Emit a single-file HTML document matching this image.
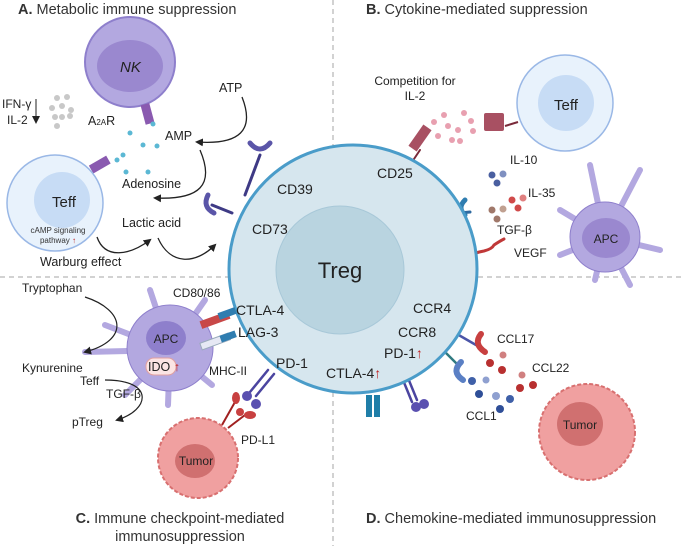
<!DOCTYPE html>
<html><head><meta charset="utf-8"><style>
body{margin:0;background:#fff}
svg{display:block;font-family:"Liberation Sans",sans-serif}
</style></head><body>
<svg width="685" height="546" viewBox="0 0 685 546" xmlns="http://www.w3.org/2000/svg">
<defs>
<marker id="ah" markerWidth="8" markerHeight="8" refX="6" refY="4" orient="auto" markerUnits="userSpaceOnUse"><path d="M0,0 L8,4 L0,8 Z" fill="#222"/></marker>
</defs>
<g stroke="#c4c4c4" stroke-width="1.5" stroke-dasharray="5,4" fill="none">
<line x1="333" y1="0" x2="333" y2="150"/><line x1="333" y1="392" x2="333" y2="546"/>
<line x1="0" y1="277" x2="230" y2="277"/><line x1="478" y1="277" x2="685" y2="277"/>
</g>
<g font-size="14.5" fill="#333">
<text x="18" y="14"><tspan font-weight="bold">A.</tspan> Metabolic immune suppression</text>
<text x="366" y="14"><tspan font-weight="bold">B.</tspan> Cytokine-mediated suppression</text>
<text x="180" y="523" text-anchor="middle"><tspan font-weight="bold">C.</tspan> Immune checkpoint-mediated</text>
<text x="180" y="541" text-anchor="middle">immunosuppression</text>
<text x="366" y="523"><tspan font-weight="bold">D.</tspan> Chemokine-mediated immunosuppression</text>
</g>
<g stroke-linecap="round">
<line x1="245" y1="195" x2="260" y2="155" stroke="#3e3a85" stroke-width="3"/>
<path d="M250,143 q10,12 20,0" stroke="#5a55a8" stroke-width="5" fill="none"/>
<line x1="232" y1="213" x2="212" y2="205" stroke="#3e3a85" stroke-width="3"/>
<path d="M208,195 q-6,12 6,18" stroke="#5a55a8" stroke-width="5" fill="none"/>
<line x1="410" y1="165" x2="420" y2="150" stroke="#7a2a3a" stroke-width="2"/>
<rect x="415" y="125" width="10" height="26" fill="#a85062" transform="rotate(35 420 138)"/>
<line x1="460" y1="213" x2="470" y2="212" stroke="#2f6aa0" stroke-width="3"/>
<path d="M465,200 q-8,8 0,15" stroke="#2f7db0" stroke-width="5" fill="none"/>
<path d="M470,255 q8,-3 14,-4 q8,-2 10,-6 q6,-4 10,-6" stroke="#c03838" stroke-width="3" fill="none"/>
<line x1="450" y1="330" x2="476" y2="345" stroke="#4b55a8" stroke-width="2.5"/>
<path d="M485,352 q-12,-8 -4,-18" stroke="#c84040" stroke-width="6" fill="none"/>
<line x1="438" y1="345" x2="458" y2="365" stroke="#2f7a80" stroke-width="2.5"/>
<path d="M463,380 q-12,-8 -2,-18" stroke="#5a7fc4" stroke-width="6" fill="none"/>
<rect x="366" y="395" width="6" height="22" fill="#1f7ea8"/><rect x="374" y="395" width="6" height="22" fill="#1f7ea8"/>
<line x1="403" y1="380" x2="412" y2="402" stroke="#4b45a0" stroke-width="2.5"/>
<line x1="408" y1="378" x2="417" y2="400" stroke="#4b45a0" stroke-width="2.5"/>
<circle cx="416" cy="407" r="5" fill="#5a50b0"/><circle cx="424" cy="404" r="5" fill="#5a50b0"/>
<line x1="268" y1="370" x2="250" y2="392" stroke="#4b45a0" stroke-width="2.5"/>
<line x1="274" y1="374" x2="256" y2="396" stroke="#4b45a0" stroke-width="2.5"/>
<circle cx="247" cy="396" r="5" fill="#5a50b0"/><circle cx="256" cy="404" r="5" fill="#5a50b0"/>
</g>
<circle cx="353" cy="269" r="124" fill="#d6e6ee" stroke="#4a9cc9" stroke-width="3"/>
<circle cx="340" cy="270" r="64" fill="#b9d4e0" stroke="#a8c8d8" stroke-width="1"/>
<text x="340" y="278" font-size="22" text-anchor="middle" fill="#222">Treg</text>
<g font-size="14" fill="#222">
<text x="277" y="194">CD39</text><text x="252" y="234">CD73</text><text x="377" y="178">CD25</text>
<text x="236" y="315">CTLA-4</text><text x="238" y="337">LAG-3</text><text x="276" y="368">PD-1</text>
<text x="413" y="313">CCR4</text><text x="398" y="337">CCR8</text><text x="384" y="358">PD-1<tspan fill="#c02020">↑</tspan></text>
<text x="326" y="378">CTLA-4<tspan fill="#c02020">↑</tspan></text>
</g>
<circle cx="130" cy="62" r="45" fill="#b3a8e0" stroke="#8e7fcc" stroke-width="2"/>
<ellipse cx="130" cy="66" rx="33" ry="26" fill="#9a88cf"/>
<text x="120" y="72" font-size="15" font-style="italic" fill="#222">NK</text>
<rect x="143" y="104" width="9" height="20" fill="#8a5ab0" transform="rotate(-15 147 114)"/>
<rect x="95" y="155" width="9" height="20" fill="#8a5ab0" transform="rotate(60 100 165)"/>
<circle cx="55" cy="203" r="48" fill="#e8f2fc" stroke="#9ab8e6" stroke-width="1.5"/>
<circle cx="62" cy="200" r="28" fill="#c7dcf5"/>
<text x="64" y="207" font-size="15" text-anchor="middle" fill="#222">Teff</text>
<text x="58" y="233" font-size="8" text-anchor="middle" fill="#333">cAMP signaling</text>
<text x="58" y="243" font-size="8" text-anchor="middle" fill="#333">pathway <tspan fill="#c02020">↑</tspan></text>
<g fill="#5bb8d4">
<circle cx="153" cy="124" r="2.5"/><circle cx="130" cy="133" r="2.5"/><circle cx="143" cy="145" r="2.5"/><circle cx="157" cy="146" r="2.5"/><circle cx="123" cy="155" r="2.5"/><circle cx="117" cy="160" r="2.5"/><circle cx="126" cy="172" r="2.5"/><circle cx="148" cy="172" r="2.5"/>
</g>
<g fill="#c8c8c8">
<circle cx="57" cy="98" r="3"/><circle cx="67" cy="97" r="3"/><circle cx="52" cy="108" r="3"/><circle cx="62" cy="106" r="3"/><circle cx="71" cy="110" r="3"/><circle cx="55" cy="117" r="3"/><circle cx="62" cy="117" r="3"/><circle cx="70" cy="116" r="3"/><circle cx="57" cy="126" r="3"/>
</g>
<g font-size="12.5" fill="#222">
<text x="2" y="108" font-size="12">IFN-γ</text><text x="7" y="124" font-size="12">IL-2</text>
<text x="88" y="125">A<tspan font-size="8">2A</tspan>R</text>
<text x="219" y="92">ATP</text><text x="165" y="140">AMP</text>
<text x="122" y="188">Adenosine</text><text x="122" y="227">Lactic acid</text>
<text x="40" y="266">Warburg effect</text>
</g>
<line x1="36" y1="99" x2="36" y2="122" stroke="#555" stroke-width="1.3" marker-end="url(#ah)"/>
<g stroke="#222" stroke-width="1.3" fill="none" marker-end="url(#ah)">
<path d="M242,97 C255,130 240,145 197,142"/>
<path d="M200,150 C215,185 200,200 155,198"/>
<path d="M97,237 C105,260 130,255 150,240"/>
<path d="M158,238 C170,265 195,265 215,245"/>
</g>
<circle cx="565" cy="103" r="48" fill="#e8f2fc" stroke="#9ab8e6" stroke-width="1.5"/>
<circle cx="566" cy="103" r="28" fill="#c7dcf5"/>
<text x="566" y="110" font-size="15" text-anchor="middle" fill="#222">Teff</text>
<line x1="505" y1="126" x2="518" y2="122" stroke="#7a2a3a" stroke-width="2"/>
<rect x="484" y="113" width="20" height="18" rx="2" fill="#a85062"/>
<text x="415" y="85" font-size="12" text-anchor="middle" fill="#222">Competition for</text>
<text x="415" y="100" font-size="12" text-anchor="middle" fill="#222">IL-2</text>
<g fill="#e8a0b0">
<circle cx="444" cy="115" r="3"/><circle cx="464" cy="113" r="3"/><circle cx="471" cy="121" r="3"/><circle cx="448" cy="126" r="3"/><circle cx="458" cy="130" r="3"/><circle cx="473" cy="131" r="3"/><circle cx="438" cy="136" r="3"/><circle cx="452" cy="140" r="3"/><circle cx="460" cy="141" r="3"/><circle cx="434" cy="122" r="3"/>
</g>
<g font-size="12" fill="#222">
<text x="510" y="164">IL-10</text><text x="528" y="197">IL-35</text><text x="497" y="234">TGF-β</text><text x="514" y="257">VEGF</text>
</g>
<g><circle cx="492" cy="175" r="3.5" fill="#4a5fa0"/><circle cx="503" cy="174" r="3.5" fill="#7f90c0"/><circle cx="497" cy="183" r="3.5" fill="#4a5fa0"/>
<circle cx="512" cy="200" r="3.5" fill="#d04a4a"/><circle cx="523" cy="198" r="3.5" fill="#e08080"/><circle cx="518" cy="208" r="3.5" fill="#d04a4a"/>
<circle cx="492" cy="210" r="3.5" fill="#a0786a"/><circle cx="503" cy="209" r="3.5" fill="#c0a090"/><circle cx="497" cy="219" r="3.5" fill="#a0786a"/></g>
<g stroke="#b3a8e0" stroke-width="6" stroke-linecap="round">
<line x1="605" y1="237" x2="590" y2="165"/><line x1="605" y1="237" x2="640" y2="170"/><line x1="605" y1="237" x2="560" y2="210"/><line x1="605" y1="237" x2="560" y2="255"/><line x1="605" y1="237" x2="660" y2="250"/><line x1="605" y1="237" x2="630" y2="285"/><line x1="605" y1="237" x2="595" y2="280"/>
</g>
<circle cx="605" cy="237" r="35" fill="#b3a8e0" stroke="#8e7fcc" stroke-width="1"/>
<ellipse cx="606" cy="238" rx="24" ry="20" fill="#9a88cf"/>
<text x="606" y="243" font-size="12" text-anchor="middle" fill="#222">APC</text>
<g stroke="#b3a8e0" stroke-width="6" stroke-linecap="round">
<line x1="170" y1="350" x2="150" y2="290"/><line x1="170" y1="350" x2="205" y2="300"/><line x1="170" y1="350" x2="105" y2="325"/><line x1="170" y1="350" x2="85" y2="352"/><line x1="170" y1="350" x2="125" y2="395"/><line x1="170" y1="350" x2="168" y2="405"/><line x1="170" y1="350" x2="212" y2="385"/><line x1="170" y1="350" x2="220" y2="340"/>
</g>
<circle cx="170" cy="348" r="43" fill="#b3a8e0" stroke="#8e7fcc" stroke-width="1"/>
<ellipse cx="166" cy="338" rx="20" ry="17" fill="#8e7fcc"/>
<text x="166" y="343" font-size="12" text-anchor="middle" fill="#222">APC</text>
<rect x="146" y="358" width="30" height="17" rx="8" fill="#fbe4e4" stroke="#e0a0a0"/>
<text x="148" y="371" font-size="12.5" fill="#222">IDO <tspan fill="#c02020">↑</tspan></text>
<rect x="200" y="316" width="30" height="8" fill="#c84848" transform="rotate(-20 215 320)"/>
<rect x="218" y="310" width="18" height="7" fill="#2f7db0" transform="rotate(-20 227 313)"/>
<rect x="200" y="338" width="30" height="7" fill="#e6e8f4" stroke="#9ab" transform="rotate(-20 215 341)"/>
<rect x="220" y="333" width="16" height="7" fill="#2f7db0" transform="rotate(-20 228 336)"/>
<g font-size="12" fill="#222">
<text x="173" y="297">CD80/86</text><text x="209" y="375">MHC-II</text>
<text x="22" y="292">Tryptophan</text><text x="22" y="372">Kynurenine</text>
<text x="80" y="385">Teff</text><text x="106" y="398">TGF-β</text><text x="72" y="426">pTreg</text>
<text x="241" y="444">PD-L1</text>
<text x="497" y="343">CCL17</text><text x="532" y="372">CCL22</text><text x="466" y="420">CCL1</text>
</g>
<g stroke="#222" stroke-width="1.2" fill="none" marker-end="url(#ah)">
<path d="M85,297 C125,310 130,340 85,352"/>
<path d="M105,380 C155,380 150,410 117,420"/>
</g>
<g stroke="#a02020" stroke-width="2"><line x1="222" y1="425" x2="235" y2="402"/><line x1="228" y1="428" x2="245" y2="415"/></g>
<g fill="#c84040"><ellipse cx="236" cy="398" rx="4" ry="6"/><ellipse cx="250" cy="415" rx="6" ry="4"/><ellipse cx="240" cy="412" rx="4" ry="4"/></g>
<circle cx="198" cy="458" r="40" fill="#f0a0a0" stroke="#d87070" stroke-width="2" stroke-dasharray="4,2"/>
<ellipse cx="195" cy="461" rx="20" ry="17" fill="#d07070"/>
<text x="196" y="465" font-size="12" text-anchor="middle" fill="#222">Tumor</text>
<circle cx="587" cy="432" r="48" fill="#f0a0a0" stroke="#d87070" stroke-width="2" stroke-dasharray="4,2"/>
<ellipse cx="580" cy="424" rx="23" ry="22" fill="#d07070"/>
<text x="580" y="429" font-size="12" text-anchor="middle" fill="#222">Tumor</text>
<g><circle cx="503" cy="355" r="3.5" fill="#d08080"/><circle cx="490" cy="363" r="4" fill="#b83030"/><circle cx="502" cy="370" r="4" fill="#b83030"/><circle cx="522" cy="375" r="3.5" fill="#d08080"/><circle cx="520" cy="388" r="4" fill="#b83030"/><circle cx="533" cy="385" r="4" fill="#b83030"/>
<circle cx="472" cy="381" r="4" fill="#3f60a8"/><circle cx="486" cy="380" r="3.5" fill="#8fa0d0"/><circle cx="479" cy="394" r="4" fill="#2f4f98"/><circle cx="496" cy="396" r="4" fill="#8fa0d0"/><circle cx="510" cy="399" r="4" fill="#3f60a8"/><circle cx="500" cy="409" r="4" fill="#2f4f98"/></g>
</svg>
</body></html>
